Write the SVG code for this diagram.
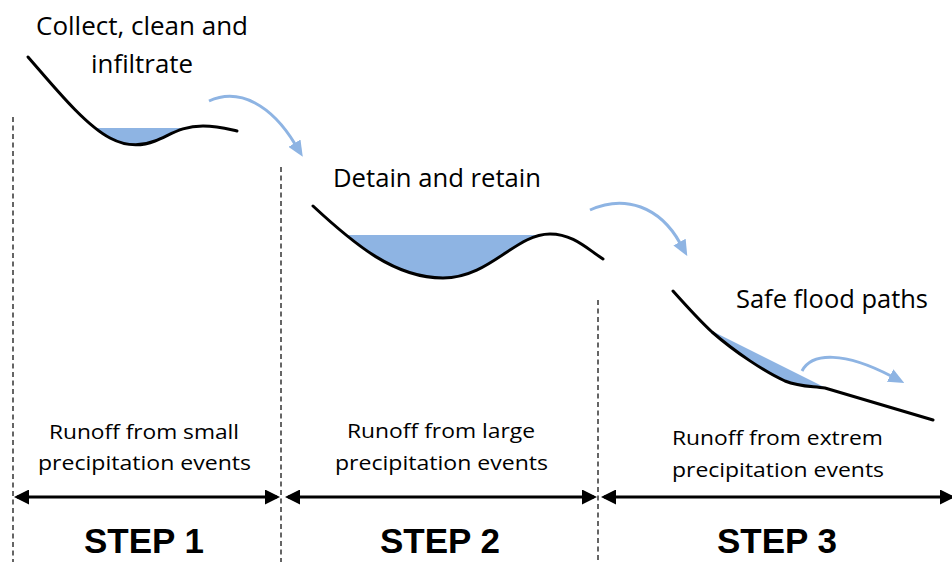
<svg xmlns="http://www.w3.org/2000/svg" width="952" height="562" viewBox="0 0 952 562">
<style>
.ground{fill:none;stroke:#000;stroke-width:3;stroke-linecap:round}
.water{fill:#8EB4E3}
.flow{fill:none;stroke:#8EB4E3;stroke-width:3}
.div{stroke:#333;stroke-width:1.5;stroke-dasharray:5 3.5}
.span{stroke:#000;stroke-width:3}
.lbl{font-family:"Open Sans","Liberation Sans",sans-serif;font-size:25px;fill:#000;text-anchor:middle}
.sub{font-family:"Open Sans","Liberation Sans",sans-serif;font-size:20px;fill:#000;text-anchor:middle}
.step{font-family:"Liberation Sans",Arial,sans-serif;font-size:35px;font-weight:bold;fill:#000;text-anchor:middle}
</style>
<defs>
<marker id="blk" viewBox="0 0 15 15" refX="12" refY="7.5" markerWidth="15" markerHeight="15" markerUnits="userSpaceOnUse" orient="auto-start-reverse">
<path d="M0,0 L15,7.5 L0,15 Z" fill="#000"/>
</marker>
<marker id="blu" viewBox="0 0 16 14" refX="1" refY="7" markerWidth="16" markerHeight="14" markerUnits="userSpaceOnUse" orient="auto">
<path d="M0,0 L16,7 L0,14 Z" fill="#8EB4E3"/>
</marker>
<clipPath id="c1"><path d="M28,57 C55,88 85,125 110,138 C125,146 140,147 155,141 C172,134 182,126 203,126 C218,126 228,129 237,131 L237,0 L28,0 Z"/></clipPath>
<clipPath id="c2"><path d="M313,206 C355,245 395,278 443,278 C490,278 515,234 550,234 C572,234 585,247 603,259 L603,0 L313,0 Z"/></clipPath>
<clipPath id="c3"><path d="M673,291 C690,310 700,321 712,332 C735,352 765,372 785,381 C800,387 812,386 825,388 L933,420 L933,0 L673,0 Z"/></clipPath>
</defs>

<g id="dividers">
<line class="div" x1="13" y1="117" x2="13" y2="562"/>
<line class="div" x1="281" y1="167" x2="281" y2="562"/>
<line class="div" x1="598" y1="300" x2="598" y2="562"/>
</g>

<g id="step1">
<rect class="water" x="95" y="128" width="105" height="30" clip-path="url(#c1)"/>
<path class="ground" d="M28,57 C55,88 85,125 110,138 C125,146 140,147 155,141 C172,134 182,126 203,126 C218,126 228,129 237,131"/>
<text class="lbl" x="142" y="35" textLength="212" lengthAdjust="spacingAndGlyphs">Collect, clean and</text>
<text class="lbl" x="142" y="73" textLength="102" lengthAdjust="spacingAndGlyphs">infiltrate</text>
<text class="sub" x="144" y="439" textLength="190" lengthAdjust="spacingAndGlyphs">Runoff from small</text>
<text class="sub" x="144.5" y="470" textLength="213" lengthAdjust="spacingAndGlyphs">precipitation events</text>
<text class="step" x="144" y="553">STEP 1</text>
</g>

<g id="step2">
<rect class="water" x="330" y="235" width="222" height="50" clip-path="url(#c2)"/>
<path class="ground" d="M313,206 C355,245 395,278 443,278 C490,278 515,234 550,234 C572,234 585,247 603,259"/>
<text class="lbl" x="437" y="187" textLength="208" lengthAdjust="spacingAndGlyphs">Detain and retain</text>
<text class="sub" x="441" y="438" textLength="188" lengthAdjust="spacingAndGlyphs">Runoff from large</text>
<text class="sub" x="441.5" y="470" textLength="213" lengthAdjust="spacingAndGlyphs">precipitation events</text>
<text class="step" x="440" y="553">STEP 2</text>
</g>

<g id="step3">
<path class="water" d="M708,329 L826,388 L826,430 L708,430 Z" clip-path="url(#c3)"/>
<path class="ground" d="M673,291 C690,310 700,321 712,332 C735,352 765,372 785,381 C800,387 812,386 825,388 L933,420"/>
<text class="lbl" x="832" y="308" textLength="192" lengthAdjust="spacingAndGlyphs">Safe flood paths</text>
<text class="sub" x="777.5" y="445" textLength="211" lengthAdjust="spacingAndGlyphs">Runoff from extrem</text>
<text class="sub" x="778" y="477" textLength="212" lengthAdjust="spacingAndGlyphs">precipitation events</text>
<text class="step" x="777" y="553">STEP 3</text>
</g>

<g id="connectors">
<path class="flow" d="M209,101 C240,87 272,106 295,144" marker-end="url(#blu)"/>
<path class="flow" d="M590,210 C625,194 660,207 680,243" marker-end="url(#blu)"/>
<path class="flow" d="M802,371 C812,352 845,352 891,376" marker-end="url(#blu)"/>
<line class="span" x1="17" y1="497" x2="277" y2="497" marker-start="url(#blk)" marker-end="url(#blk)"/>
<line class="span" x1="288" y1="497" x2="594" y2="497" marker-start="url(#blk)" marker-end="url(#blk)"/>
<line class="span" x1="604" y1="497" x2="952" y2="497" marker-start="url(#blk)" marker-end="url(#blk)"/>
</g>
</svg>
